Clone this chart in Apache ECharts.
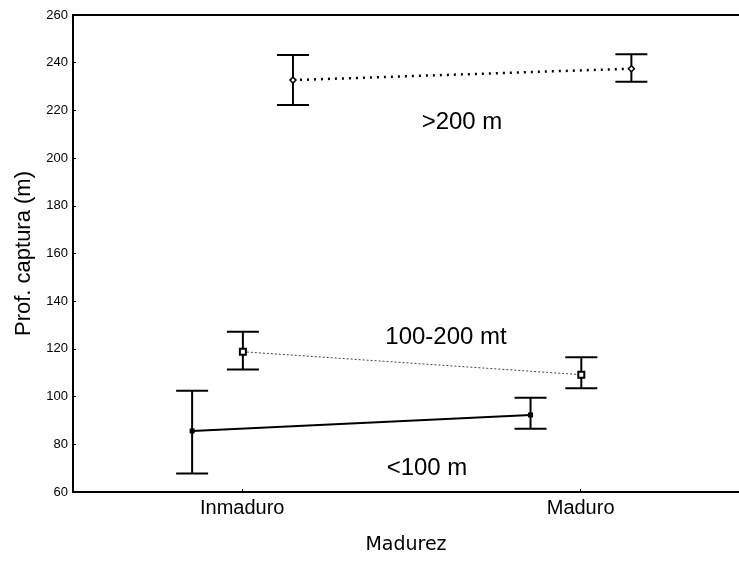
<!DOCTYPE html>
<html>
<head>
<meta charset="utf-8">
<script src="https://cdn.jsdelivr.net/npm/echarts@6/dist/echarts.min.js"></script>
<style>html,body{margin:0;padding:0;background:#fff;}#c{width:739px;height:561px;}</style>
</head>
<body>
<div id="c"></div>
<script>
const categories = ['Inmaduro', 'Maduro'];
const groups = ['<100 m', '100-200 mt', '>200 m'];
const yTicks = [60, 80, 100, 120, 140, 160, 180, 200, 220, 240, 260];

const meanLt100 = [85.6, 92.3];
const upperLt100 = [102.5, 99.5];
const lowerLt100 = [67.8, 86.5];

const meanMid = [118.8, 109.2];
const upperMid = [127.2, 116.5];
const lowerMid = [111.4, 103.5];

const meanGt200 = [232.7, 237.5];
const upperGt200 = [243.2, 243.5];
const lowerGt200 = [222.3, 232.0];

const FONT = 'Liberation Sans, Arial, sans-serif';
const offsets = [-0.148, 0.002, 0.15];
const X_MIN = -0.5, X_MAX = 1.468;

function pts(mean, off) { return mean.map((v, i) => [i + off, v]); }
function bars(lo, hi, off) { return lo.map((v, i) => [i + off, v, hi[i]]); }

function errItem(params, api) {
  const x = api.value(0);
  const p1 = api.coord([x, api.value(1)]);
  const p2 = api.coord([x, api.value(2)]);
  const hw = 16;
  const st = { stroke: '#000', lineWidth: 2 };
  return {
    type: 'group',
    children: [
      { type: 'line', shape: { x1: p1[0], y1: p1[1], x2: p2[0], y2: p2[1] }, style: st },
      { type: 'line', shape: { x1: p1[0] - hw, y1: p1[1], x2: p1[0] + hw, y2: p1[1] }, style: st },
      { type: 'line', shape: { x1: p2[0] - hw, y1: p2[1], x2: p2[0] + hw, y2: p2[1] }, style: st }
    ]
  };
}

const chart = echarts.init(document.getElementById('c'));
chart.setOption({
  animation: false,
  backgroundColor: '#fff',
  grid: { left: 73, right: 0, top: 15, bottom: 69, show: false, containLabel: false },
  xAxis: [{
    type: 'value', min: X_MIN, max: X_MAX, position: 'bottom',
    splitLine: { show: false },
    axisLine: { show: true, onZero: false, lineStyle: { color: '#000', width: 2 } },
    axisTick: { show: true, inside: true, length: 3, customValues: [0, 1], lineStyle: { color: '#000', width: 1 } },
    axisLabel: { customValues: [0, 1], formatter: v => categories[Math.round(v)], color: '#000', fontFamily: FONT, fontSize: 20, margin: 6 },
    name: 'Madurez', nameLocation: 'middle', nameGap: 44,
    nameTextStyle: { color: '#000', fontFamily: 'DejaVu Sans, sans-serif', fontSize: 19 }
  }, {
    type: 'value', min: X_MIN, max: X_MAX, position: 'top',
    splitLine: { show: false },
    axisLine: { show: true, onZero: false, lineStyle: { color: '#000', width: 2 } },
    axisTick: { show: false },
    axisLabel: { show: false }
  }],
  yAxis: {
    type: 'value', min: yTicks[0], max: yTicks[yTicks.length - 1], interval: 20,
    splitLine: { show: false },
    axisLine: { show: true, onZero: false, lineStyle: { color: '#000', width: 2 } },
    axisTick: { show: true, inside: true, length: 3, lineStyle: { color: '#000', width: 1 } },
    axisLabel: { color: '#000', fontFamily: FONT, fontSize: 13, margin: 5 },
    name: 'Prof. captura (m)', nameLocation: 'middle', nameGap: 38,
    nameTextStyle: { color: '#000', fontFamily: FONT, fontSize: 22 }
  },
  series: [
    { type: 'custom', name: groups[0] + ' err', data: bars(lowerLt100, upperLt100, offsets[0]), renderItem: errItem, encode: { x: 0, y: [1, 2] }, z: 2 },
    { type: 'custom', name: groups[1] + ' err', data: bars(lowerMid, upperMid, offsets[1]), renderItem: errItem, encode: { x: 0, y: [1, 2] }, z: 2 },
    { type: 'custom', name: groups[2] + ' err', data: bars(lowerGt200, upperGt200, offsets[2]), renderItem: errItem, encode: { x: 0, y: [1, 2] }, z: 2 },
    { type: 'line', name: groups[0], data: pts(meanLt100, offsets[0]), z: 3,
      lineStyle: { color: '#000', width: 2, type: 'solid' },
      symbol: 'rect', symbolSize: 5, itemStyle: { color: '#000' } },
    { type: 'line', name: groups[1], data: pts(meanMid, offsets[1]), z: 3,
      lineStyle: { color: '#444', width: 1, type: [2, 2] },
      symbol: 'rect', symbolSize: 6, itemStyle: { color: '#fff', borderColor: '#000', borderWidth: 2 } },
    { type: 'line', name: groups[2], data: pts(meanGt200, offsets[2]), z: 3,
      lineStyle: { color: '#000', width: 2.5, type: [2, 5] },
      symbol: 'diamond', symbolSize: 6, itemStyle: { color: '#fff', borderColor: '#000', borderWidth: 1.5 } }
  ],
  graphic: [
    { type: 'text', x: 462, y: 122, style: { text: groups[2], fontFamily: FONT, fontSize: 24, fill: '#000', align: 'center', verticalAlign: 'middle' } },
    { type: 'text', x: 446, y: 337, style: { text: groups[1], fontFamily: FONT, fontSize: 24, fill: '#000', align: 'center', verticalAlign: 'middle' } },
    { type: 'text', x: 427, y: 468, style: { text: groups[0], fontFamily: FONT, fontSize: 24, fill: '#000', align: 'center', verticalAlign: 'middle' } }
  ]
});
</script>
</body>
</html>
